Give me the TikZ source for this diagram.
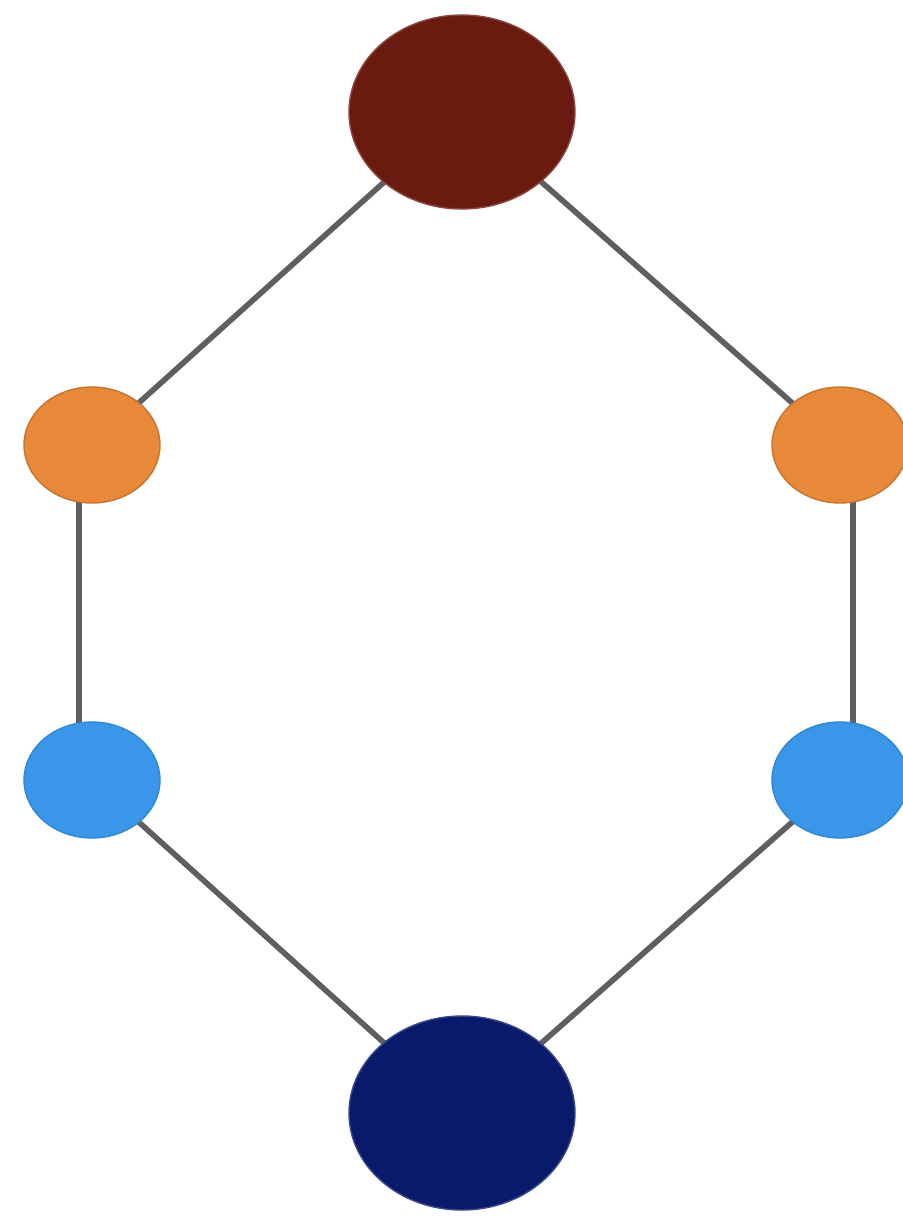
\documentclass[tikz,border=0pt]{standalone}
\usetikzlibrary{shapes.geometric,backgrounds}
\definecolor{topred}{HTML}{6B1A10}
\definecolor{midorange}{HTML}{E8893A}
\definecolor{midblue}{HTML}{3A96E8}
\definecolor{botnavy}{HTML}{0A1A6B}
\definecolor{edgegray}{HTML}{5F5E63}
\begin{document}
\begin{tikzpicture}[
  bignode/.style={ellipse, minimum width=2.26cm, minimum height=1.94cm, inner sep=0pt},
  smallnode/.style={ellipse, minimum width=1.36cm, minimum height=1.16cm, inner sep=0pt},
  link/.style={edgegray, line width=1.6pt}]
\useasboundingbox (0,0) rectangle (9.02,-12.23);
\node[bignode, fill=topred, draw=topred!80!white, thin] (top) at (4.62,-1.12) {};
\node[smallnode, fill=midorange, draw=midorange!85!black, thin] (orangeleft) at (0.92,-4.45) {};
\node[smallnode, fill=midorange, draw=midorange!85!black, thin] (orangeright) at (8.40,-4.45) {};
\node[smallnode, fill=midblue, draw=midblue!90!black, thin] (blueleft) at (0.92,-7.80) {};
\node[smallnode, fill=midblue, draw=midblue!90!black, thin] (blueright) at (8.40,-7.80) {};
\node[bignode, fill=botnavy, draw=botnavy!80!white, thin] (bottom) at (4.62,-11.13) {};
\begin{scope}[on background layer]
\draw[link] (top.center) -- (orangeleft.center);
\draw[link] (top.center) -- (orangeright.center);
\draw[link] ([xshift=-0.13cm]orangeleft.center) -- ([xshift=-0.13cm]blueleft.center);
\draw[link] ([xshift=0.13cm]orangeright.center) -- ([xshift=0.13cm]blueright.center);
\draw[link] (blueleft.center) -- (bottom.center);
\draw[link] (blueright.center) -- (bottom.center);
\end{scope}
\end{tikzpicture}
\end{document}
